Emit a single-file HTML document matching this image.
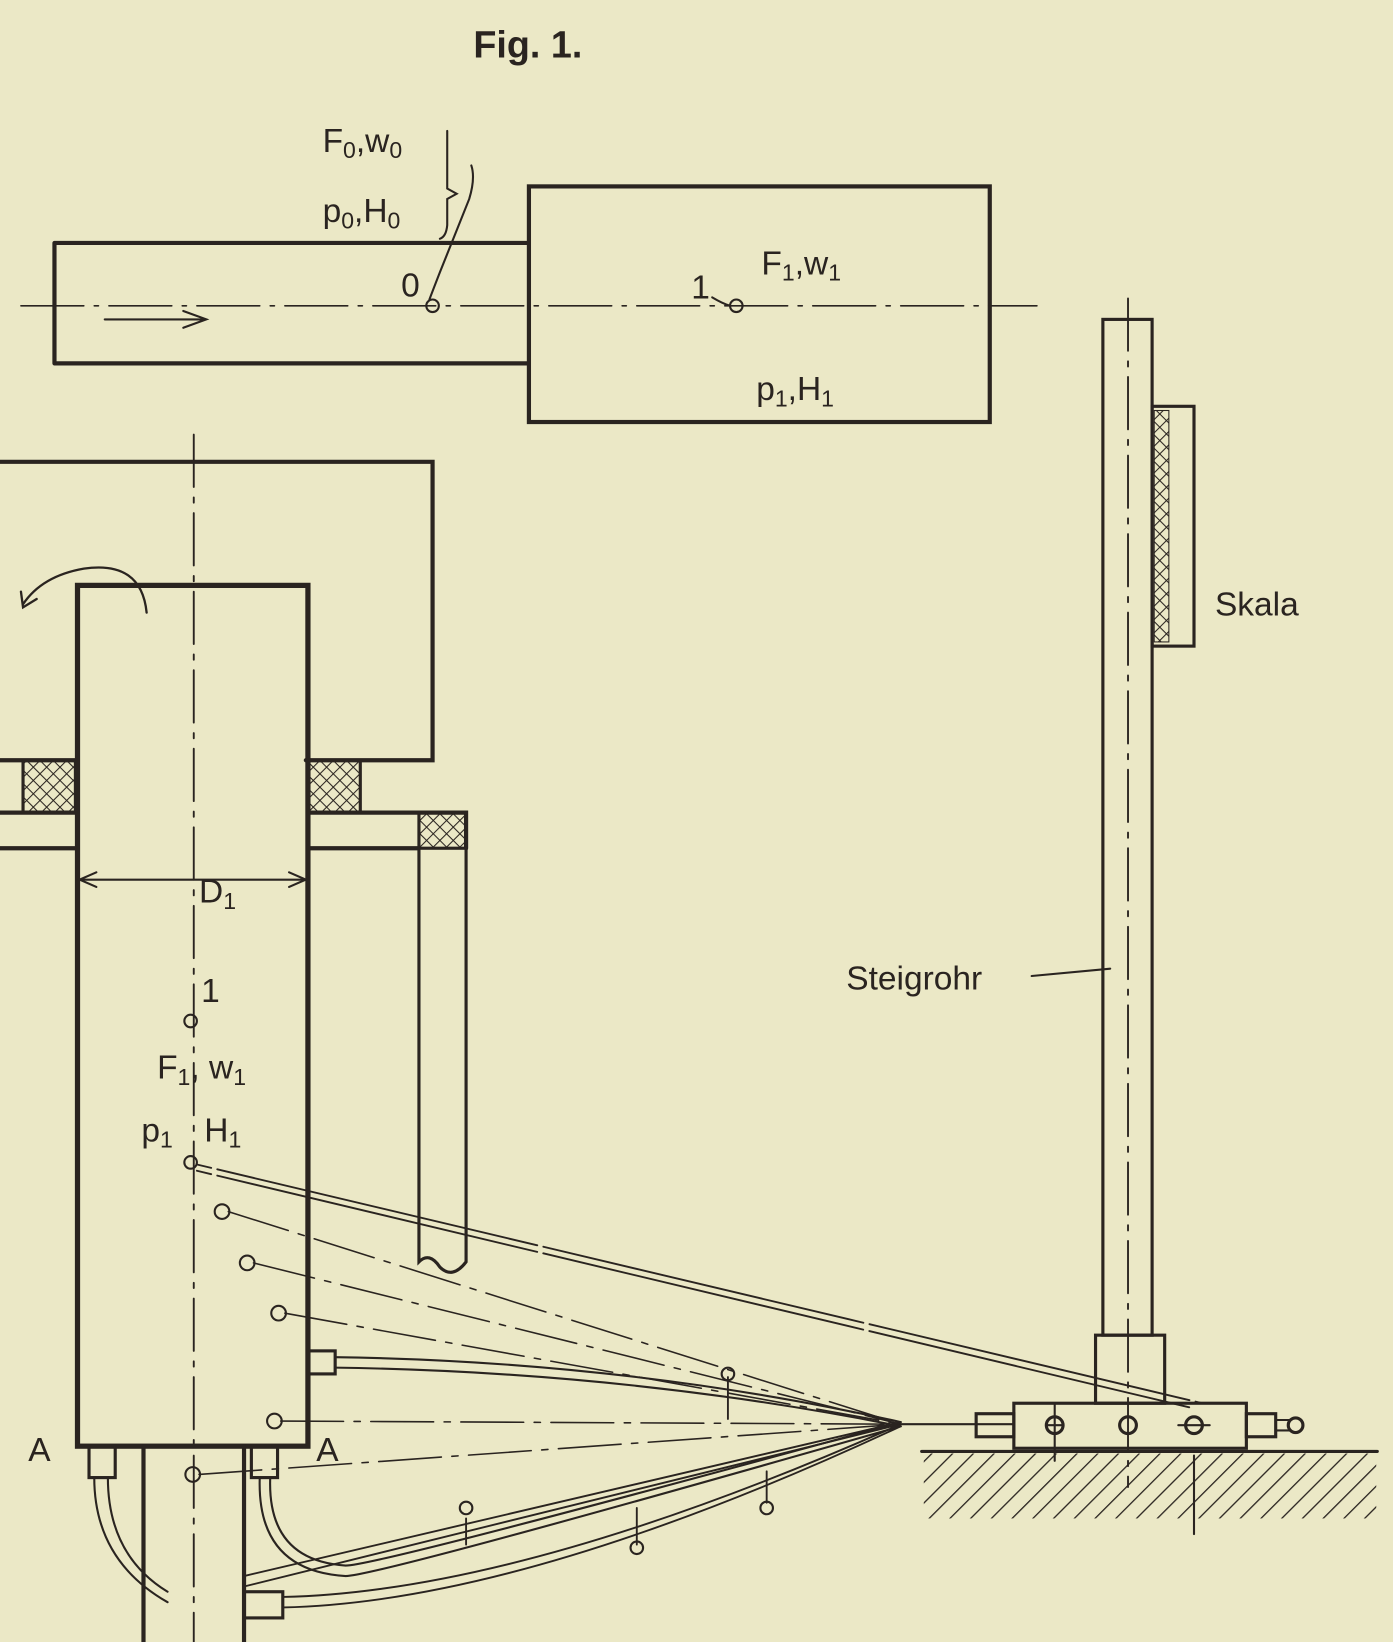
<!DOCTYPE html>
<html><head><meta charset="utf-8"><style>
html,body{margin:0;padding:0;background:#ebe8c6;}
svg{display:block;}
text{font-family:"Liberation Sans",sans-serif;fill:#2a2420;}
</style></head><body>
<svg width="1393" height="1642" viewBox="0 0 1330 1568" preserveAspectRatio="none" xmlns="http://www.w3.org/2000/svg">
<defs>
<pattern id="gh" width="14" height="14" patternUnits="userSpaceOnUse" patternTransform="rotate(45)">
<line x1="0" y1="0" x2="0" y2="14" stroke="#2a2420" stroke-width="2.5"/>
</pattern>
<pattern id="xh" width="9" height="9" patternUnits="userSpaceOnUse" patternTransform="rotate(45)">
<line x1="0" y1="0" x2="0" y2="9" stroke="#2a2420" stroke-width="2"/><line x1="0" y1="0" x2="9" y2="0" stroke="#2a2420" stroke-width="2"/>
</pattern>
</defs>
<rect width="1330" height="1568" fill="#ebe8c6"/>
<g stroke="#2a2420" fill="none" stroke-linecap="round">
<!-- top figure -->
<path d="M52 232 H505 M52 347 H505 M52 232 V347" stroke-width="4"/>
<rect x="505" y="178" width="440" height="225" stroke-width="4"/>
<line x1="20" y1="292" x2="990" y2="292" stroke-width="1.6" stroke-dasharray="60 10 4 10"/>
<line x1="100" y1="305" x2="195" y2="305" stroke-width="2"/>
<path d="M175 297 L197 305 L175 313" stroke-width="2"/>
<circle cx="413" cy="292" r="6" stroke-width="2"/>
<circle cx="703" cy="292" r="6" stroke-width="2"/>
<path d="M427 125 V180 L436 185 L427 190 V215 Q426 226 420 228 M450 158 Q454 170 448 190 L420 260 Q413 278 410 286" stroke-width="2"/>
<path d="M680 284 Q690 290 697 292" stroke-width="2"/>
<!-- housing -->
<path d="M0 441 H413 V726 H292" stroke-width="4"/>
<rect x="74" y="559" width="220" height="822" stroke-width="5"/>
<line x1="185" y1="415" x2="185" y2="1568" stroke-width="1.8" stroke-dasharray="50 10 5 10"/>
<path d="M0 726 H74 M0 776 H74 M0 810 H74" stroke-width="4"/>
<rect x="22" y="726" width="50" height="50" fill="url(#xh)" stroke-width="3"/>
<rect x="294" y="726" width="50" height="50" fill="url(#xh)" stroke-width="3"/>
<path d="M294 776 H445 V810 M294 810 H400" stroke-width="4"/>
<rect x="400" y="776" width="45" height="34" fill="url(#xh)" stroke-width="3"/>
<path d="M400 810 V1205 Q410 1195 420 1210 Q432 1222 445 1205 V810" stroke-width="3"/>
<path d="M140 585 Q135 535 80 543 Q40 550 22 577 M20 565 L22 580 L35 572" stroke-width="2.2"/>
<line x1="78" y1="840" x2="292" y2="840" stroke-width="2"/>
<path d="M92 833 L76 840 L92 847 M276 833 L292 840 L276 847" stroke-width="2"/>
<circle cx="182" cy="975" r="6" stroke-width="2"/>
<circle cx="182" cy="1110" r="6" stroke-width="2"/>
<circle cx="212" cy="1157" r="7" stroke-width="2"/>
<circle cx="236" cy="1206" r="7" stroke-width="2"/>
<circle cx="266" cy="1254" r="7" stroke-width="2"/>
<circle cx="262" cy="1357" r="7" stroke-width="2"/>
<circle cx="184" cy="1408" r="7" stroke-width="2"/>
<rect x="294" y="1290" width="26" height="22" stroke-width="3"/>
<!-- shaft -->
<path d="M137 1381 V1568 M233 1381 V1568" stroke-width="4"/>
<rect x="85" y="1381" width="25" height="30" stroke-width="3"/>
<rect x="240" y="1381" width="25" height="30" stroke-width="3"/>
<rect x="233" y="1520" width="37" height="25" stroke-width="3"/>
<path d="M90 1411 Q90 1490 160 1530 M103 1411 Q103 1485 160 1520" stroke-width="2"/>
<path d="M248 1411 Q245 1500 330 1505 Q360 1505 860 1362 M258 1411 Q255 1490 330 1495 Q360 1495 860 1358" stroke-width="2"/>
<path d="M233 1515 L860 1360 M233 1505 L860 1358 M270 1535 Q500 1530 860 1362 M270 1525 Q500 1520 860 1360" stroke-width="1.8"/>
<!-- leader lines -->
<path d="M188 1112 L1148 1340 M188 1118 L1140 1345" stroke-width="1.8" stroke-dasharray="14 6 300 0"/>
<path d="M218 1157 L860 1360 M242 1206 L860 1360 M272 1254 L860 1360 M268 1357 L860 1360 M190 1408 L860 1360" stroke-width="1.5" stroke-dasharray="60 10 6 10"/>
<path d="M320 1296 Q600 1300 860 1358 M320 1306 Q600 1310 860 1362" stroke-width="2"/>
<line x1="860" y1="1360" x2="968" y2="1360" stroke-width="2"/>
<path d="M695 1315 V1355 M445 1450 V1475 M608 1440 V1475 M732 1405 V1435" stroke-width="1.8"/>
<circle cx="695" cy="1312" r="6" stroke-width="2"/>
<circle cx="445" cy="1440" r="6" stroke-width="2"/>
<circle cx="608" cy="1478" r="6" stroke-width="2"/>
<circle cx="732" cy="1440" r="6" stroke-width="2"/>
<!-- Steigrohr -->
<rect x="1053" y="305" width="47" height="970" stroke-width="3"/>
<line x1="1077" y1="285" x2="1077" y2="1420" stroke-width="1.8" stroke-dasharray="50 10 5 10"/>
<rect x="1046" y="1275" width="66" height="65" stroke-width="3"/>
<rect x="1100" y="388" width="40" height="229" stroke-width="3"/>
<rect x="1102" y="392" width="14" height="221" fill="url(#xh)" stroke-width="1"/>
<path d="M985 932 L1060 925" stroke-width="2"/>
<rect x="968" y="1340" width="222" height="43" stroke-width="3"/>
<rect x="932" y="1350" width="36" height="22" stroke-width="3"/>
<rect x="1190" y="1350" width="28" height="22" stroke-width="3"/>
<path d="M1218 1356 H1232 M1218 1366 H1232" stroke-width="2"/>
<circle cx="1237" cy="1361" r="7" stroke-width="3"/>
<circle cx="1007" cy="1361" r="8" stroke-width="3"/>
<circle cx="1077" cy="1361" r="8" stroke-width="3"/>
<circle cx="1140" cy="1361" r="8" stroke-width="3"/>
<path d="M1007 1340 V1395 M1140 1390 V1465 M1000 1361 H1015 M1125 1361 H1155" stroke-width="2"/>
<line x1="880" y1="1386" x2="1315" y2="1386" stroke-width="3"/>
<rect x="882" y="1388" width="432" height="62" fill="url(#gh)" stroke="none"/>
</g>
<g font-size="32">
<text x="452" y="55" font-family="Liberation Serif,serif" font-weight="bold" font-size="36">Fig. 1.</text>
<text x="308" y="145">F<tspan font-size="22" dy="6">0</tspan><tspan dy="-6">,w</tspan><tspan font-size="22" dy="6">0</tspan></text>
<text x="308" y="212">p<tspan font-size="22" dy="6">0</tspan><tspan dy="-6">,H</tspan><tspan font-size="22" dy="6">0</tspan></text>
<text x="383" y="283">0</text>
<text x="660" y="285">1</text>
<text x="727" y="262">F<tspan font-size="22" dy="6">1</tspan><tspan dy="-6">,w</tspan><tspan font-size="22" dy="6">1</tspan></text>
<text x="722" y="382">p<tspan font-size="22" dy="6">1</tspan><tspan dy="-6">,H</tspan><tspan font-size="22" dy="6">1</tspan></text>
<text x="190" y="862">D<tspan font-size="22" dy="6">1</tspan></text>
<text x="192" y="957">1</text>
<text x="150" y="1030">F<tspan font-size="22" dy="6">1</tspan><tspan dy="-6">, w</tspan><tspan font-size="22" dy="6">1</tspan></text>
<text x="135" y="1090">p<tspan font-size="22" dy="6">1</tspan></text>
<text x="195" y="1090">H<tspan font-size="22" dy="6">1</tspan></text>
<text x="27" y="1395">A</text>
<text x="302" y="1395">A</text>
<text x="1160" y="588">Skala</text>
<text x="808" y="945">Steigrohr</text>
</g>
</svg>
</body></html>
